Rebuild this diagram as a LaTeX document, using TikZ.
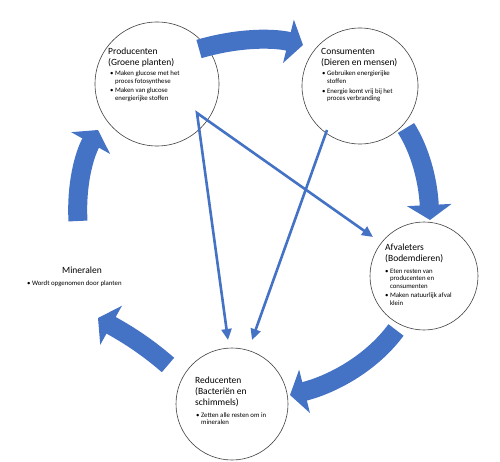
\documentclass[tikz,border=0pt]{standalone}
\usepackage{fontspec}
\setmainfont{Carlito}
\usetikzlibrary{arrows.meta}
\definecolor{cycleblue}{HTML}{4472C4}
\newcommand{\headtxt}[1]{\begin{tabular}[t]{@{}l@{}}#1\end{tabular}}
\newcommand{\bullettxt}[1]{\begin{tabular}[t]{@{}l@{\hspace{1.5pt}}l@{}}#1\end{tabular}}
\begin{document}
\begin{tikzpicture}[x=1pt,y=-1pt,
    stage/.style={draw=black!75,line width=0.6pt,circle,minimum size=#1,inner sep=0},
    head/.style={anchor=base west,inner sep=0,font=\fontsize{9.5}{11}\selectfont},
    list/.style={anchor=base west,inner sep=0,font=\fontsize{6.8}{7.8}\selectfont},
    bigarrow/.style={draw=cycleblue,line width=19pt,-{Triangle[width=44pt,length=15pt]}},
    flow/.style={draw=cycleblue,line width=2.6pt,line join=miter}]
  \useasboundingbox (0,0) rectangle (500,462);

  % the four stages
  \node[stage=124pt] (prod) at (157,84) {};
  \node[stage=116pt] (cons) at (360,86) {};
  \node[stage=108pt] (afval) at (424,276) {};
  \node[stage=112pt] (red) at (232,404) {};

  \node[head] (prodhead) at (108,55) {\headtxt{Producenten\\(Groene planten)}};
  \node[list] (prodlist) at (110,76) {\bullettxt{\textbullet & Maken glucose met het\\ & proces fotosynthese\\[1pt]
    \textbullet & Maken van glucose\\ & energierijke stoffen}};

  \node[head] (conshead) at (321,55) {\headtxt{Consumenten\\(Dieren en mensen)}};
  \node[list] (conslist) at (322,76) {\bullettxt{\textbullet & Gebruiken energierijke\\ & stoffen\\[1.5pt]
    \textbullet & Energie komt vrij bij het\\ & proces verbranding}};

  \node[head] (afvalhead) at (385,251) {\headtxt{Afvaleters\\(Bodemdieren)}};
  \node[list] (afvallist) at (385,273) {\bullettxt{\textbullet & Eten resten van\\ & producenten en\\ & consumenten\\[1pt]
    \textbullet & Maken natuurlijk afval\\ & klein}};

  \node[head] (redhead) at (195,383) {\headtxt{Reducenten\\(Bacteriën en\\schimmels)}};
  \node[list] (redlist) at (196,417) {\bullettxt{\textbullet & Zetten alle resten om in\\ & mineralen}};

  \node[head] (minhead) at (62,273) {Mineralen};
  \node[list] (minlist) at (27,285) {\bullettxt{\textbullet & Wordt opgenomen door planten}};

  % the cycle
  \coordinate (c1) at (199,49);  \coordinate (c2) at (303,45);
  \coordinate (c3) at (406,128); \coordinate (c4) at (430,220);
  \coordinate (c5) at (396,330); \coordinate (c6) at (290,395);
  \coordinate (c7) at (168,365); \coordinate (c8) at (98,318);
  \coordinate (c9) at (78,221);  \coordinate (c10) at (98,130);
  \draw[bigarrow] (c1) .. controls (240,37) and (275,38) .. (c2);
  \draw[bigarrow] (c3) .. controls (420,150) and (428,180) .. (c4);
  \draw[bigarrow] (c5) .. controls (370,365) and (330,385) .. (c6);
  \draw[bigarrow] (c7) .. controls (145,345) and (125,333) .. (c8);
  \draw[bigarrow] (c9) .. controls (76,185) and (84,155) .. (c10);

  % food and waste
  \coordinate (p1) at (197,113);
  \coordinate (p2) at (327,130);
  \coordinate (t1) at (373,237);
  \coordinate (t2) at (228,340);
  \coordinate (t3) at (252,340);
  \draw[flow,{Triangle[width=10pt,length=11pt]}-{Triangle[width=10pt,length=11pt]}] (t1) -- (p1) -- (t2);
  \draw[flow,-{Triangle[width=10pt,length=11pt]}] (p2) -- (t3);
\end{tikzpicture}
\end{document}
